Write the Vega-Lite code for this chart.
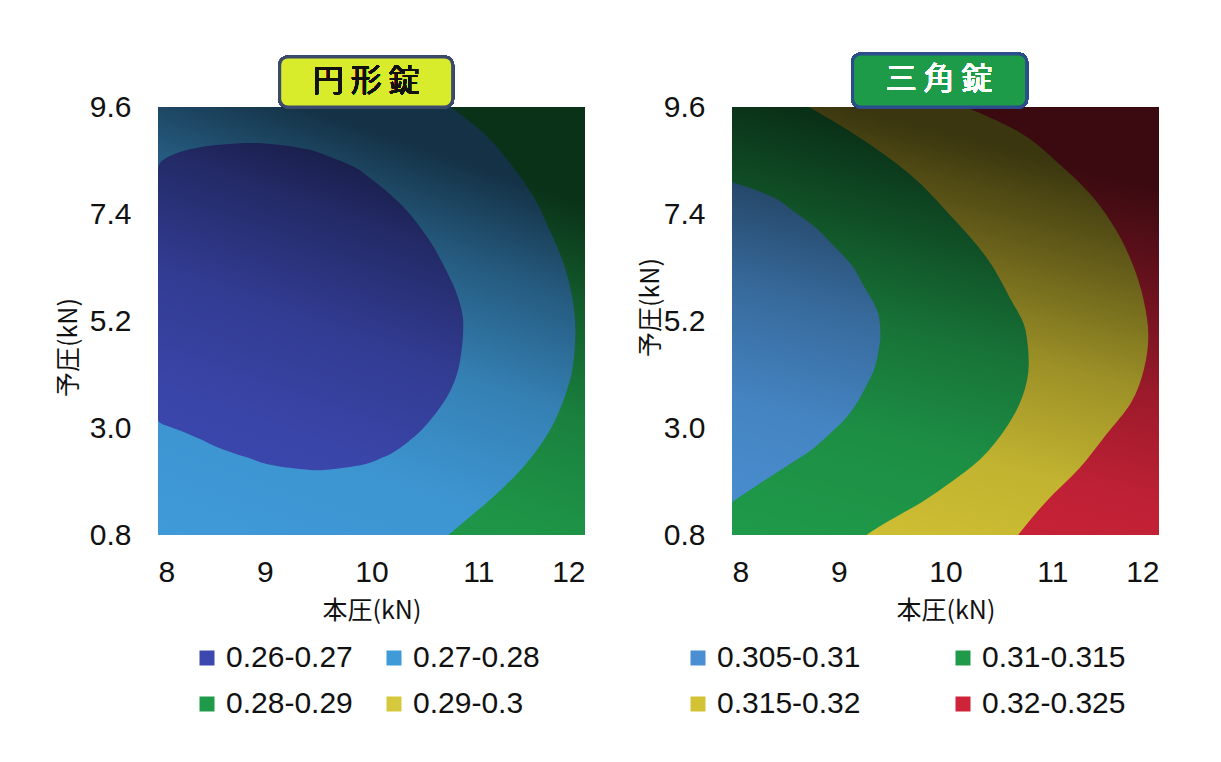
{
  "$schema": "https://vega.github.io/schema/vega-lite/v6.json",
  "background": "white",
  "padding": {"left": 56, "top": 52, "right": 5, "bottom": 5},
  "spacing": 147,
  "bounds": "flush",
  "resolve": {"scale": {"color": "independent"}, "legend": {"color": "independent"}},
  "config": {
    "view": {"stroke": null},
    "axis": {"domain": false, "ticks": false, "grid": false, "labelFont": "Liberation Sans", "labelFontSize": 30, "labelColor": "#111111", "titleFont": "Noto Sans CJK JP", "titleFontSize": 25, "titleFontWeight": "normal", "titleColor": "#111111"},
    "legend": {"orient": "none", "direction": "horizontal", "columns": 2, "symbolType": "square", "symbolSize": 225, "symbolStrokeWidth": 0, "symbolOpacity": 1, "labelFont": "Liberation Sans", "labelFontSize": 30, "labelColor": "#111111", "labelLimit": 400, "rowPadding": 16, "labelOffset": 4, "padding": 0}
  },
  "datasets": {
    "L": [
      {"cls": "0.28-0.29", "pre": 0.8, "lo": 8, "hi": 12},
      {"cls": "0.28-0.29", "pre": 9.6, "lo": 8, "hi": 12},
      {"cls": "0.27-0.28", "pre": 0.8, "lo": 8, "hi": 10.72},
      {"cls": "0.27-0.28", "pre": 1.17, "lo": 8, "hi": 10.92},
      {"cls": "0.27-0.28", "pre": 1.58, "lo": 8, "hi": 11.14},
      {"cls": "0.27-0.28", "pre": 2.27, "lo": 8, "hi": 11.45},
      {"cls": "0.27-0.28", "pre": 2.95, "lo": 8, "hi": 11.67},
      {"cls": "0.27-0.28", "pre": 3.64, "lo": 8, "hi": 11.81},
      {"cls": "0.27-0.28", "pre": 4.32, "lo": 8, "hi": 11.89},
      {"cls": "0.27-0.28", "pre": 5.01, "lo": 8, "hi": 11.91},
      {"cls": "0.27-0.28", "pre": 5.69, "lo": 8, "hi": 11.88},
      {"cls": "0.27-0.28", "pre": 6.38, "lo": 8, "hi": 11.8},
      {"cls": "0.27-0.28", "pre": 7.06, "lo": 8, "hi": 11.67},
      {"cls": "0.27-0.28", "pre": 7.75, "lo": 8, "hi": 11.52},
      {"cls": "0.27-0.28", "pre": 8.44, "lo": 8, "hi": 11.3},
      {"cls": "0.27-0.28", "pre": 9.12, "lo": 8, "hi": 11.02},
      {"cls": "0.27-0.28", "pre": 9.6, "lo": 8, "hi": 10.74},
      {"cls": "0.26-0.27", "pre": 2.13, "lo": 9.47, "hi": 9.53},
      {"cls": "0.26-0.27", "pre": 2.2, "lo": 9.17, "hi": 9.8},
      {"cls": "0.26-0.27", "pre": 2.4, "lo": 8.83, "hi": 10.11},
      {"cls": "0.26-0.27", "pre": 2.61, "lo": 8.55, "hi": 10.28},
      {"cls": "0.26-0.27", "pre": 2.75, "lo": 8.42, "hi": 10.36},
      {"cls": "0.26-0.27", "pre": 2.92, "lo": 8.24, "hi": 10.45},
      {"cls": "0.26-0.27", "pre": 3.16, "lo": 8, "hi": 10.55},
      {"cls": "0.26-0.27", "pre": 3.77, "lo": 8, "hi": 10.74},
      {"cls": "0.26-0.27", "pre": 4.39, "lo": 8, "hi": 10.83},
      {"cls": "0.26-0.27", "pre": 5.15, "lo": 8, "hi": 10.86},
      {"cls": "0.26-0.27", "pre": 5.69, "lo": 8, "hi": 10.81},
      {"cls": "0.26-0.27", "pre": 6.24, "lo": 8, "hi": 10.7},
      {"cls": "0.26-0.27", "pre": 6.93, "lo": 8, "hi": 10.52},
      {"cls": "0.26-0.27", "pre": 7.61, "lo": 8, "hi": 10.27},
      {"cls": "0.26-0.27", "pre": 8.2, "lo": 8, "hi": 9.95},
      {"cls": "0.26-0.27", "pre": 8.33, "lo": 8, "hi": 9.87},
      {"cls": "0.26-0.27", "pre": 8.5, "lo": 8.04, "hi": 9.7},
      {"cls": "0.26-0.27", "pre": 8.62, "lo": 8.14, "hi": 9.56},
      {"cls": "0.26-0.27", "pre": 8.74, "lo": 8.32, "hi": 9.38},
      {"cls": "0.26-0.27", "pre": 8.82, "lo": 8.55, "hi": 9.15},
      {"cls": "0.26-0.27", "pre": 8.86, "lo": 8.8, "hi": 8.95}
    ],
    "R": [
      {"cls": "0.32-0.325", "pre": 0.8, "lo": 8, "hi": 12},
      {"cls": "0.32-0.325", "pre": 9.6, "lo": 8, "hi": 12},
      {"cls": "0.315-0.32", "pre": 0.8, "lo": 8, "hi": 10.68},
      {"cls": "0.315-0.32", "pre": 1.48, "lo": 8, "hi": 10.94},
      {"cls": "0.315-0.32", "pre": 2.16, "lo": 8, "hi": 11.25},
      {"cls": "0.315-0.32", "pre": 2.85, "lo": 8, "hi": 11.5},
      {"cls": "0.315-0.32", "pre": 3.53, "lo": 8, "hi": 11.74},
      {"cls": "0.315-0.32", "pre": 4.22, "lo": 8, "hi": 11.86},
      {"cls": "0.315-0.32", "pre": 4.9, "lo": 8, "hi": 11.9},
      {"cls": "0.315-0.32", "pre": 5.59, "lo": 8, "hi": 11.86},
      {"cls": "0.315-0.32", "pre": 6.38, "lo": 8, "hi": 11.75},
      {"cls": "0.315-0.32", "pre": 7.06, "lo": 8, "hi": 11.6},
      {"cls": "0.315-0.32", "pre": 7.75, "lo": 8, "hi": 11.38},
      {"cls": "0.315-0.32", "pre": 8.44, "lo": 8, "hi": 11.06},
      {"cls": "0.315-0.32", "pre": 9.12, "lo": 8, "hi": 10.66},
      {"cls": "0.315-0.32", "pre": 9.6, "lo": 8, "hi": 10.19},
      {"cls": "0.31-0.315", "pre": 0.8, "lo": 8, "hi": 9.26},
      {"cls": "0.31-0.315", "pre": 1.0, "lo": 8, "hi": 9.4},
      {"cls": "0.31-0.315", "pre": 1.48, "lo": 8, "hi": 9.78},
      {"cls": "0.31-0.315", "pre": 1.9, "lo": 8, "hi": 10.06},
      {"cls": "0.31-0.315", "pre": 2.27, "lo": 8, "hi": 10.28},
      {"cls": "0.31-0.315", "pre": 2.95, "lo": 8, "hi": 10.55},
      {"cls": "0.31-0.315", "pre": 3.64, "lo": 8, "hi": 10.72},
      {"cls": "0.31-0.315", "pre": 4.32, "lo": 8, "hi": 10.78},
      {"cls": "0.31-0.315", "pre": 5.01, "lo": 8, "hi": 10.75},
      {"cls": "0.31-0.315", "pre": 5.69, "lo": 8, "hi": 10.6},
      {"cls": "0.31-0.315", "pre": 6.52, "lo": 8, "hi": 10.38},
      {"cls": "0.31-0.315", "pre": 7.34, "lo": 8, "hi": 10.06},
      {"cls": "0.31-0.315", "pre": 8.23, "lo": 8, "hi": 9.66},
      {"cls": "0.31-0.315", "pre": 8.98, "lo": 8, "hi": 9.19},
      {"cls": "0.31-0.315", "pre": 9.6, "lo": 8, "hi": 8.72},
      {"cls": "0.305-0.31", "pre": 1.48, "lo": 8, "hi": 8.0},
      {"cls": "0.305-0.31", "pre": 1.83, "lo": 8, "hi": 8.24},
      {"cls": "0.305-0.31", "pre": 2.2, "lo": 8, "hi": 8.5},
      {"cls": "0.305-0.31", "pre": 2.51, "lo": 8, "hi": 8.72},
      {"cls": "0.305-0.31", "pre": 2.85, "lo": 8, "hi": 8.9},
      {"cls": "0.305-0.31", "pre": 3.19, "lo": 8, "hi": 9.06},
      {"cls": "0.305-0.31", "pre": 3.55, "lo": 8, "hi": 9.18},
      {"cls": "0.305-0.31", "pre": 3.88, "lo": 8, "hi": 9.26},
      {"cls": "0.305-0.31", "pre": 4.2, "lo": 8, "hi": 9.33},
      {"cls": "0.305-0.31", "pre": 4.56, "lo": 8, "hi": 9.37},
      {"cls": "0.305-0.31", "pre": 4.9, "lo": 8, "hi": 9.39},
      {"cls": "0.305-0.31", "pre": 5.25, "lo": 8, "hi": 9.38},
      {"cls": "0.305-0.31", "pre": 5.56, "lo": 8, "hi": 9.33},
      {"cls": "0.305-0.31", "pre": 5.9, "lo": 8, "hi": 9.24},
      {"cls": "0.305-0.31", "pre": 6.38, "lo": 8, "hi": 9.11},
      {"cls": "0.305-0.31", "pre": 6.75, "lo": 8, "hi": 8.95},
      {"cls": "0.305-0.31", "pre": 7.13, "lo": 8, "hi": 8.78},
      {"cls": "0.305-0.31", "pre": 7.45, "lo": 8, "hi": 8.58},
      {"cls": "0.305-0.31", "pre": 7.75, "lo": 8, "hi": 8.38},
      {"cls": "0.305-0.31", "pre": 7.95, "lo": 8, "hi": 8.15},
      {"cls": "0.305-0.31", "pre": 8.06, "lo": 8, "hi": 8.0}
    ]
  },
  "hconcat": [
    {
      "width": 427,
      "height": 428,
      "data": {"name": "L"},
      "layer": [
        {
          "transform": [{"filter": "datum.cls === '0.28-0.29'"}],
          "mark": {"type": "area", "orient": "horizontal", "interpolate": "monotone"},
          "encoding": {
            "y": {"field": "pre", "type": "quantitative", "title": "予圧(kN)", "scale": {"domain": [0.8, 9.6], "nice": false, "zero": false}, "axis": {"values": [0.8, 3.0, 5.2, 7.4, 9.6], "format": ".1f", "labelPadding": 27, "titleX": -90, "titleY": 240, "titleAngle": -90, "titleAlign": "center", "titleBaseline": "middle"}},
            "x": {"field": "lo", "type": "quantitative", "title": "本圧(kN)", "stack": null, "scale": {"domain": [8, 12], "nice": false, "zero": false}, "axis": {"values": [8, 9, 10, 11, 12], "format": "d", "labelPadding": 22, "titleY": 75, "titleBaseline": "middle"}},
            "x2": {"field": "hi"},
            "color": {"field": "cls", "type": "nominal", "scale": {"domain": ["0.26-0.27", "0.27-0.28", "0.28-0.29", "0.29-0.3"], "range": ["#3c48b0", "#3f9ad8", "#1f9a4a", "#d6c83c"]}, "legend": {"title": null, "legendX": 34, "legendY": 536, "columnPadding": 26}}
          }
        },
        {
          "transform": [{"filter": "datum.cls === '0.27-0.28'"}],
          "mark": {"type": "area", "orient": "horizontal", "interpolate": "monotone"},
          "encoding": {
            "y": {"field": "pre", "type": "quantitative", "title": "予圧(kN)"},
            "x": {"field": "lo", "type": "quantitative", "title": "本圧(kN)", "stack": null},
            "x2": {"field": "hi"},
            "color": {"field": "cls", "type": "nominal"}
          }
        },
        {
          "transform": [{"filter": "datum.cls === '0.26-0.27'"}],
          "mark": {"type": "area", "orient": "horizontal", "interpolate": "monotone"},
          "encoding": {
            "y": {"field": "pre", "type": "quantitative", "title": "予圧(kN)"},
            "x": {"field": "lo", "type": "quantitative", "title": "本圧(kN)", "stack": null},
            "x2": {"field": "hi"},
            "color": {"field": "cls", "type": "nominal"}
          }
        },
        {
          "transform": [{"filter": "datum.cls === '0.28-0.29'"}],
          "mark": {"type": "area", "orient": "horizontal", "color": {"gradient": "linear", "x1": 0, "y1": 1, "x2": 0.35, "y2": 0, "stops": [{"offset": 0, "color": "rgba(0,0,0,0)"}, {"offset": 0.3, "color": "rgba(0,0,0,0.04)"}, {"offset": 0.55, "color": "rgba(0,0,0,0.17)"}, {"offset": 0.8, "color": "rgba(0,0,0,0.42)"}, {"offset": 1, "color": "rgba(0,0,0,0.68)"}]}},
          "encoding": {
            "y": {"field": "pre", "type": "quantitative", "title": "予圧(kN)"},
            "x": {"field": "lo", "type": "quantitative", "title": "本圧(kN)", "stack": null},
            "x2": {"field": "hi"}
          }
        },
        {
          "mark": {"type": "rect", "fill": "#d9ec2c", "stroke": "#3b4a6b", "strokeWidth": 3, "cornerRadius": 8},
          "encoding": {
            "x": {"datum": 9.14, "type": "quantitative", "title": "本圧(kN)"},
            "x2": {"datum": 10.76},
            "y": {"datum": 10.63, "type": "quantitative", "title": "予圧(kN)"},
            "y2": {"datum": 9.6}
          }
        },
        {
          "mark": {"type": "text", "text": "円 形 錠", "font": "Noto Sans CJK JP", "fontSize": 31, "color": "#111111", "align": "center", "baseline": "middle"},
          "encoding": {
            "x": {"datum": 9.95, "type": "quantitative", "title": "本圧(kN)"},
            "y": {"datum": 10.12, "type": "quantitative", "title": "予圧(kN)"}
          }
        }
      ]
    },
    {
      "width": 427,
      "height": 428,
      "data": {"name": "R"},
      "layer": [
        {
          "transform": [{"filter": "datum.cls === '0.32-0.325'"}],
          "mark": {"type": "area", "orient": "horizontal", "interpolate": "monotone"},
          "encoding": {
            "y": {"field": "pre", "type": "quantitative", "title": "予圧(kN)", "scale": {"domain": [0.8, 9.6], "nice": false, "zero": false}, "axis": {"values": [0.8, 3.0, 5.2, 7.4, 9.6], "format": ".1f", "labelPadding": 27, "titleX": -82, "titleY": 200, "titleAngle": -90, "titleAlign": "center", "titleBaseline": "middle"}},
            "x": {"field": "lo", "type": "quantitative", "title": "本圧(kN)", "stack": null, "scale": {"domain": [8, 12], "nice": false, "zero": false}, "axis": {"values": [8, 9, 10, 11, 12], "format": "d", "labelPadding": 22, "titleY": 75, "titleBaseline": "middle"}},
            "x2": {"field": "hi"},
            "color": {"field": "cls", "type": "nominal", "scale": {"domain": ["0.305-0.31", "0.31-0.315", "0.315-0.32", "0.32-0.325"], "range": ["#4a8fd2", "#1f9a4a", "#d2c234", "#cf2339"]}, "legend": {"title": null, "legendX": -49, "legendY": 536, "columnPadding": 87}}
          }
        },
        {
          "transform": [{"filter": "datum.cls === '0.315-0.32'"}],
          "mark": {"type": "area", "orient": "horizontal", "interpolate": "monotone"},
          "encoding": {
            "y": {"field": "pre", "type": "quantitative", "title": "予圧(kN)"},
            "x": {"field": "lo", "type": "quantitative", "title": "本圧(kN)", "stack": null},
            "x2": {"field": "hi"},
            "color": {"field": "cls", "type": "nominal"}
          }
        },
        {
          "transform": [{"filter": "datum.cls === '0.31-0.315'"}],
          "mark": {"type": "area", "orient": "horizontal", "interpolate": "monotone"},
          "encoding": {
            "y": {"field": "pre", "type": "quantitative", "title": "予圧(kN)"},
            "x": {"field": "lo", "type": "quantitative", "title": "本圧(kN)", "stack": null},
            "x2": {"field": "hi"},
            "color": {"field": "cls", "type": "nominal"}
          }
        },
        {
          "transform": [{"filter": "datum.cls === '0.305-0.31'"}],
          "mark": {"type": "area", "orient": "horizontal", "interpolate": "monotone"},
          "encoding": {
            "y": {"field": "pre", "type": "quantitative", "title": "予圧(kN)"},
            "x": {"field": "lo", "type": "quantitative", "title": "本圧(kN)", "stack": null},
            "x2": {"field": "hi"},
            "color": {"field": "cls", "type": "nominal"}
          }
        },
        {
          "transform": [{"filter": "datum.cls === '0.32-0.325'"}],
          "mark": {"type": "area", "orient": "horizontal", "color": {"gradient": "linear", "x1": 0, "y1": 1, "x2": 0.25, "y2": 0, "stops": [{"offset": 0, "color": "rgba(0,0,0,0)"}, {"offset": 0.3, "color": "rgba(0,0,0,0.08)"}, {"offset": 0.55, "color": "rgba(0,0,0,0.26)"}, {"offset": 0.8, "color": "rgba(0,0,0,0.52)"}, {"offset": 1, "color": "rgba(0,0,0,0.72)"}]}},
          "encoding": {
            "y": {"field": "pre", "type": "quantitative", "title": "予圧(kN)"},
            "x": {"field": "lo", "type": "quantitative", "title": "本圧(kN)", "stack": null},
            "x2": {"field": "hi"}
          }
        },
        {
          "mark": {"type": "rect", "fill": "#1e9b48", "stroke": "#2c4d8c", "strokeWidth": 3, "cornerRadius": 8},
          "encoding": {
            "x": {"datum": 9.13, "type": "quantitative", "title": "本圧(kN)"},
            "x2": {"datum": 10.76},
            "y": {"datum": 10.69, "type": "quantitative", "title": "予圧(kN)"},
            "y2": {"datum": 9.6}
          }
        },
        {
          "mark": {"type": "text", "text": "三 角 錠", "font": "Noto Sans CJK JP", "fontSize": 31, "color": "#ffffff", "align": "center", "baseline": "middle"},
          "encoding": {
            "x": {"datum": 9.94, "type": "quantitative", "title": "本圧(kN)"},
            "y": {"datum": 10.15, "type": "quantitative", "title": "予圧(kN)"}
          }
        }
      ]
    }
  ]
}
